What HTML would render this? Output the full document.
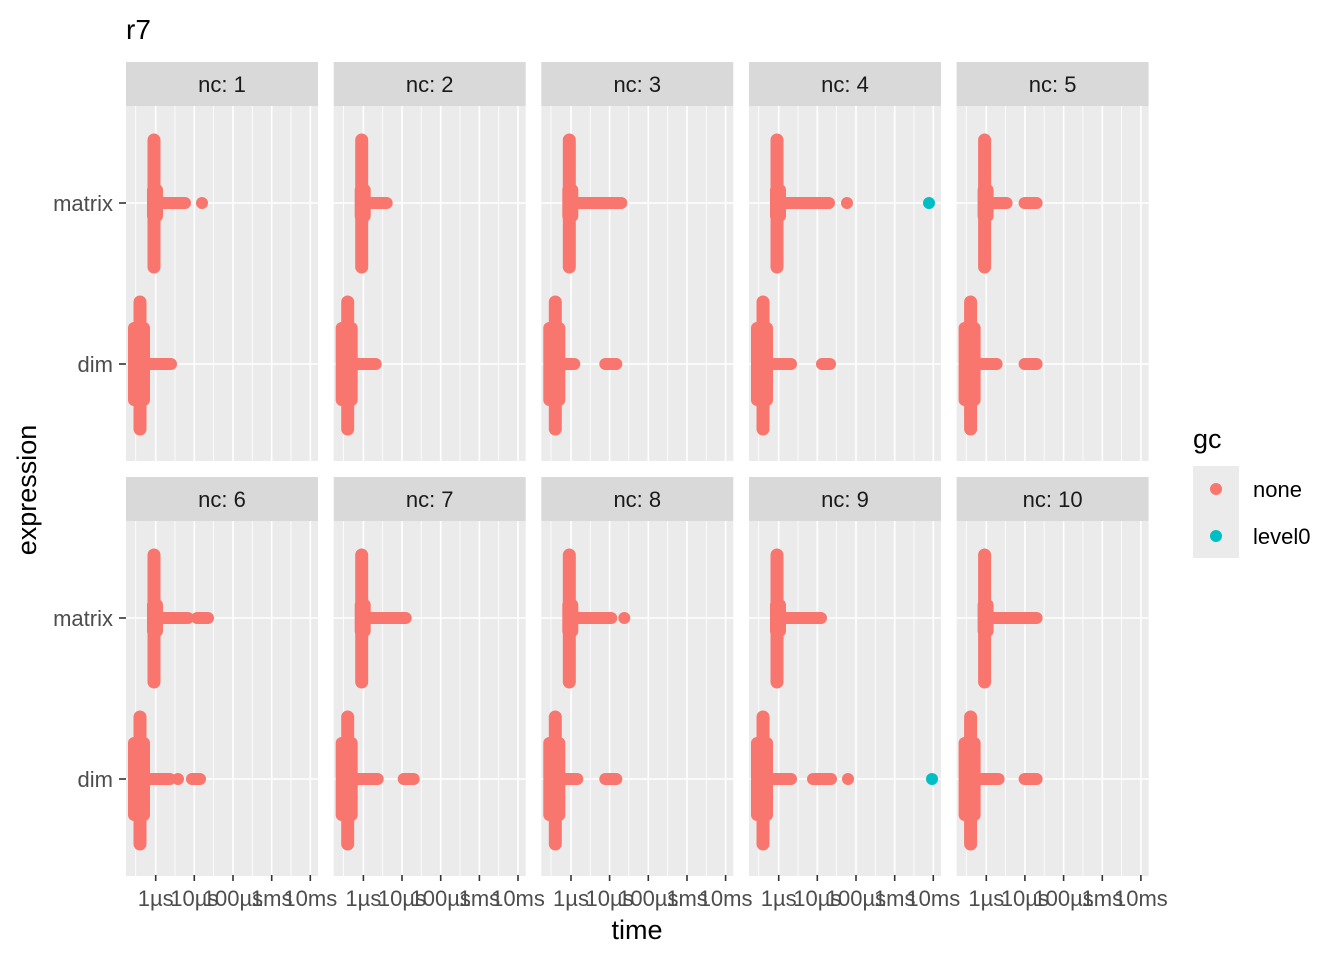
<!DOCTYPE html>
<html><head><meta charset="utf-8"><style>
html,body{margin:0;padding:0;background:#fff;}
svg{display:block;font-family:"Liberation Sans",Arial,sans-serif;}
</style></head><body>
<svg width="1344" height="960" viewBox="0 0 1344 960" xmlns="http://www.w3.org/2000/svg">
<defs>
<g id="bg">
<rect x="0" y="0" width="192" height="355" fill="#EBEBEB" stroke="none"/>
<g stroke="#fff" stroke-width="0.8" stroke-linecap="butt">
<line x1="9.7" y1="0" x2="9.7" y2="355"/><line x1="49" y1="0" x2="49" y2="355"/><line x1="87.5" y1="0" x2="87.5" y2="355"/><line x1="126.3" y1="0" x2="126.3" y2="355"/><line x1="165" y1="0" x2="165" y2="355"/>
</g>
<g stroke="#fff" stroke-width="1.6" stroke-linecap="butt">
<line x1="29.7" y1="0" x2="29.7" y2="355"/><line x1="68.3" y1="0" x2="68.3" y2="355"/><line x1="107" y1="0" x2="107" y2="355"/><line x1="145.7" y1="0" x2="145.7" y2="355"/><line x1="184.3" y1="0" x2="184.3" y2="355"/>
<line x1="0" y1="97" x2="192" y2="97"/><line x1="0" y1="258" x2="192" y2="258"/>
</g>
</g>
<g id="shape" fill="#F8766D" stroke="#F8766D" stroke-linecap="round">
<line x1="28" y1="34" x2="28" y2="161" stroke-width="13"/>
<rect x="21" y="78" width="16" height="38" rx="6" stroke="none"/>
<line x1="14" y1="196" x2="14" y2="323" stroke-width="13"/>
<rect x="2" y="216" width="22" height="84" rx="6" stroke="none"/>
</g>
</defs>
<text x="126" y="39" font-size="28" fill="#000">r7</text>
<g fill="#D9D9D9">
<rect x="126" y="62" width="192" height="44"/><rect x="333.7" y="62" width="192" height="44"/><rect x="541.3" y="62" width="192" height="44"/><rect x="749" y="62" width="192" height="44"/><rect x="956.6" y="62" width="192" height="44"/>
<rect x="126" y="477" width="192" height="44"/><rect x="333.7" y="477" width="192" height="44"/><rect x="541.3" y="477" width="192" height="44"/><rect x="749" y="477" width="192" height="44"/><rect x="956.6" y="477" width="192" height="44"/>
</g>
<g font-size="22" fill="#1A1A1A" text-anchor="middle">
<text x="222" y="92">nc: 1</text><text x="429.7" y="92">nc: 2</text><text x="637.3" y="92">nc: 3</text><text x="845" y="92">nc: 4</text><text x="1052.6" y="92">nc: 5</text>
<text x="222" y="507">nc: 6</text><text x="429.7" y="507">nc: 7</text><text x="637.3" y="507">nc: 8</text><text x="845" y="507">nc: 9</text><text x="1052.6" y="507">nc: 10</text>
</g>
<g transform="translate(126,106)"><use href="#bg"/><use href="#shape"/><g stroke="#F8766D" stroke-width="12" stroke-linecap="round"><line x1="28" y1="97" x2="59" y2="97"/><line x1="76" y1="97" x2="76" y2="97"/><line x1="14" y1="258" x2="45" y2="258"/></g></g>
<g transform="translate(333.7,106)"><use href="#bg"/><use href="#shape"/><g stroke="#F8766D" stroke-width="12" stroke-linecap="round"><line x1="28" y1="97" x2="53" y2="97"/><line x1="14" y1="258" x2="42" y2="258"/></g></g>
<g transform="translate(541.3,106)"><use href="#bg"/><use href="#shape"/><g stroke="#F8766D" stroke-width="12" stroke-linecap="round"><line x1="28" y1="97" x2="80" y2="97"/><line x1="14" y1="258" x2="33" y2="258"/><line x1="64" y1="258" x2="75" y2="258"/></g></g>
<g transform="translate(749,106)"><use href="#bg"/><use href="#shape"/><g stroke="#F8766D" stroke-width="12" stroke-linecap="round"><line x1="28" y1="97" x2="80" y2="97"/><line x1="98" y1="97" x2="98" y2="97"/><line x1="14" y1="258" x2="42" y2="258"/><line x1="73" y1="258" x2="81" y2="258"/><line x1="180" y1="97" x2="180" y2="97" stroke="#00BFC4"/></g></g>
<g transform="translate(956.6,106)"><use href="#bg"/><use href="#shape"/><g stroke="#F8766D" stroke-width="12" stroke-linecap="round"><line x1="28" y1="97" x2="50" y2="97"/><line x1="68" y1="97" x2="80" y2="97"/><line x1="14" y1="258" x2="40" y2="258"/><line x1="68" y1="258" x2="80" y2="258"/></g></g>
<g transform="translate(126,521)"><use href="#bg"/><use href="#shape"/><g stroke="#F8766D" stroke-width="12" stroke-linecap="round"><line x1="28" y1="97" x2="62" y2="97"/><line x1="71" y1="97" x2="82" y2="97"/><line x1="14" y1="258" x2="44" y2="258"/><line x1="52" y1="258" x2="52" y2="258"/><line x1="66" y1="258" x2="74" y2="258"/></g></g>
<g transform="translate(333.7,521)"><use href="#bg"/><use href="#shape"/><g stroke="#F8766D" stroke-width="12" stroke-linecap="round"><line x1="28" y1="97" x2="72" y2="97"/><line x1="14" y1="258" x2="44" y2="258"/><line x1="70" y1="258" x2="80" y2="258"/></g></g>
<g transform="translate(541.3,521)"><use href="#bg"/><use href="#shape"/><g stroke="#F8766D" stroke-width="12" stroke-linecap="round"><line x1="28" y1="97" x2="70" y2="97"/><line x1="83" y1="97" x2="83" y2="97"/><line x1="14" y1="258" x2="36" y2="258"/><line x1="64" y1="258" x2="75" y2="258"/></g></g>
<g transform="translate(749,521)"><use href="#bg"/><use href="#shape"/><g stroke="#F8766D" stroke-width="12" stroke-linecap="round"><line x1="28" y1="97" x2="72" y2="97"/><line x1="14" y1="258" x2="42" y2="258"/><line x1="64" y1="258" x2="82" y2="258"/><line x1="99" y1="258" x2="99" y2="258"/><line x1="183" y1="258" x2="183" y2="258" stroke="#00BFC4"/></g></g>
<g transform="translate(956.6,521)"><use href="#bg"/><use href="#shape"/><g stroke="#F8766D" stroke-width="12" stroke-linecap="round"><line x1="28" y1="97" x2="80" y2="97"/><line x1="14" y1="258" x2="42" y2="258"/><line x1="68" y1="258" x2="80" y2="258"/></g></g>
<g stroke="#333" stroke-width="1.6">
<line x1="119" y1="203" x2="126" y2="203"/><line x1="119" y1="364" x2="126" y2="364"/>
<line x1="119" y1="618" x2="126" y2="618"/><line x1="119" y1="779" x2="126" y2="779"/>
</g>
<g font-size="22" fill="#4D4D4D" text-anchor="end">
<text x="113" y="211">matrix</text><text x="113" y="372">dim</text>
<text x="113" y="626">matrix</text><text x="113" y="787">dim</text>
</g>
<g stroke="#333" stroke-width="1.6">
<g transform="translate(126,875)"><line x1="29.7" y1="0" x2="29.7" y2="6"/><line x1="68.3" y1="0" x2="68.3" y2="6"/><line x1="107" y1="0" x2="107" y2="6"/><line x1="145.7" y1="0" x2="145.7" y2="6"/><line x1="184.3" y1="0" x2="184.3" y2="6"/></g>
<g transform="translate(333.7,875)"><line x1="29.7" y1="0" x2="29.7" y2="6"/><line x1="68.3" y1="0" x2="68.3" y2="6"/><line x1="107" y1="0" x2="107" y2="6"/><line x1="145.7" y1="0" x2="145.7" y2="6"/><line x1="184.3" y1="0" x2="184.3" y2="6"/></g>
<g transform="translate(541.3,875)"><line x1="29.7" y1="0" x2="29.7" y2="6"/><line x1="68.3" y1="0" x2="68.3" y2="6"/><line x1="107" y1="0" x2="107" y2="6"/><line x1="145.7" y1="0" x2="145.7" y2="6"/><line x1="184.3" y1="0" x2="184.3" y2="6"/></g>
<g transform="translate(749,875)"><line x1="29.7" y1="0" x2="29.7" y2="6"/><line x1="68.3" y1="0" x2="68.3" y2="6"/><line x1="107" y1="0" x2="107" y2="6"/><line x1="145.7" y1="0" x2="145.7" y2="6"/><line x1="184.3" y1="0" x2="184.3" y2="6"/></g>
<g transform="translate(956.6,875)"><line x1="29.7" y1="0" x2="29.7" y2="6"/><line x1="68.3" y1="0" x2="68.3" y2="6"/><line x1="107" y1="0" x2="107" y2="6"/><line x1="145.7" y1="0" x2="145.7" y2="6"/><line x1="184.3" y1="0" x2="184.3" y2="6"/></g>
</g>
<g font-size="22" fill="#4D4D4D" text-anchor="middle">
<g transform="translate(126,906)"><text x="29.7">1µs</text><text x="68.3">10µs</text><text x="107">100µs</text><text x="145.7">1ms</text><text x="184.3">10ms</text></g>
<g transform="translate(333.7,906)"><text x="29.7">1µs</text><text x="68.3">10µs</text><text x="107">100µs</text><text x="145.7">1ms</text><text x="184.3">10ms</text></g>
<g transform="translate(541.3,906)"><text x="29.7">1µs</text><text x="68.3">10µs</text><text x="107">100µs</text><text x="145.7">1ms</text><text x="184.3">10ms</text></g>
<g transform="translate(749,906)"><text x="29.7">1µs</text><text x="68.3">10µs</text><text x="107">100µs</text><text x="145.7">1ms</text><text x="184.3">10ms</text></g>
<g transform="translate(956.6,906)"><text x="29.7">1µs</text><text x="68.3">10µs</text><text x="107">100µs</text><text x="145.7">1ms</text><text x="184.3">10ms</text></g>
</g>
<text x="637" y="939" font-size="27" fill="#000" text-anchor="middle">time</text>
<text transform="translate(36,490) rotate(-90)" font-size="27" fill="#000" text-anchor="middle">expression</text>
<text x="1193" y="448" font-size="27" fill="#000">gc</text>
<rect x="1193" y="466" width="46" height="92" fill="#EBEBEB"/>
<circle cx="1216" cy="489" r="6" fill="#F8766D"/>
<circle cx="1216" cy="536" r="6" fill="#00BFC4"/>
<text x="1253" y="497" font-size="22" fill="#000">none</text>
<text x="1253" y="544" font-size="22" fill="#000">level0</text>
</svg>
</body></html>
